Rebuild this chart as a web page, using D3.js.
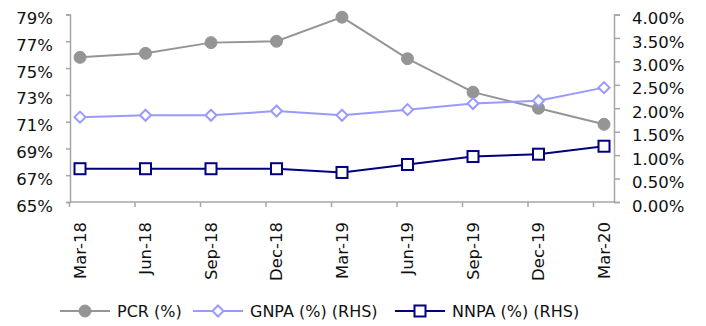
<!DOCTYPE html>
<html>
<head>
<meta charset="utf-8">
<script src="https://cdn.jsdelivr.net/npm/d3@7"></script>
<style>
  body { margin: 0; background: #fff; }
  text { font-family: "DejaVu Sans", sans-serif; fill: #111; }
</style>
</head>
<body>
<div id="chart"></div>
<script>
// data
const quarters = ["Mar-18", "Jun-18", "Sep-18", "Dec-18", "Mar-19", "Jun-19", "Sep-19", "Dec-19", "Mar-20"];
const pcr = [75.8, 76.1, 76.9, 77.0, 78.8, 75.7, 73.2, 72.0, 70.8];
const gnpa = [1.81, 1.85, 1.85, 1.94, 1.85, 1.97, 2.10, 2.16, 2.44];
const nnpa = [0.71, 0.71, 0.71, 0.71, 0.63, 0.80, 0.97, 1.02, 1.19];
const leftTicks = [65, 67, 69, 71, 73, 75, 77, 79];
const rightTicks = [0, 0.5, 1, 1.5, 2, 2.5, 3, 3.5, 4];

// set the dimensions and margins of the graph
const margin = { top: 14.5, right: 92, bottom: 124, left: 70 },
    width = 706 - margin.left - margin.right,
    height = 326 - margin.top - margin.bottom;

const svg = d3.select("#chart")
    .append("svg")
    .attr("width", 706)
    .attr("height", 326)
    .append("g")
    .attr("transform", "translate(" + margin.left + "," + margin.top + ")");

const axisColor = "#a6a6a6";

// scales
const x = d3.scalePoint()
    .domain(quarters)
    .range([10, 534]);

const yL = d3.scaleLinear()
    .domain([65, 79])
    .range([height, 0]);

const yR = d3.scaleLinear()
    .domain([0, 4])
    .range([height, 0]);

// left axis
const gL = svg.append("g")
    .call(d3.axisLeft(yL).tickValues(leftTicks).tickSize(4).tickPadding(13)
        .tickFormat(d => d + "%"));

// right axis
const gR = svg.append("g")
    .attr("transform", "translate(" + width + ",0)")
    .call(d3.axisRight(yR).tickValues(rightTicks).tickSize(6).tickPadding(12)
        .tickFormat(d => d.toFixed(2) + "%"));

[gL, gR].forEach(g => {
    g.select(".domain").attr("stroke", axisColor).attr("stroke-width", 1.5);
    g.selectAll(".tick line").attr("stroke", axisColor).attr("stroke-width", 1.5);
    g.selectAll(".tick text")
        .attr("dy", "0.55em")
        .style("font-size", "16.5px")
        .style("font-family", "'DejaVu Sans', sans-serif")
        .attr("fill", "#111");
});

// bottom axis: line, ticks left of each category, rotated labels
svg.append("line")
    .attr("x1", 0).attr("x2", width)
    .attr("y1", height).attr("y2", height)
    .attr("stroke", axisColor).attr("stroke-width", 1.5);

svg.append("g")
    .selectAll("line")
    .data(quarters)
    .enter().append("line")
    .attr("x1", d => x(d) - 10.5).attr("x2", d => x(d) - 10.5)
    .attr("y1", height).attr("y2", height + 5)
    .attr("stroke", axisColor).attr("stroke-width", 1.5);

svg.append("g")
    .selectAll("text")
    .data(quarters)
    .enter().append("text")
    .attr("transform", d => "translate(" + x(d) + "," + (height + 20) + ") rotate(-90)")
    .attr("text-anchor", "end")
    .attr("dy", "0.36em")
    .style("font-size", "16.5px")
    .text(d => d);

// lines
const series = [
    { name: "PCR (%)", values: pcr, y: yL, color: "#959595", marker: "circle" },
    { name: "GNPA (%) (RHS)", values: gnpa, y: yR, color: "#9999ff", marker: "diamond" },
    { name: "NNPA (%) (RHS)", values: nnpa, y: yR, color: "#000080", marker: "square" }
];

function drawMarker(g, type, color) {
    if (type === "circle") {
        g.append("circle").attr("r", 6).attr("fill", color).attr("stroke", color);
    } else if (type === "diamond") {
        g.append("path").attr("d", "M0,-5.5L5.5,0L0,5.5L-5.5,0Z")
            .attr("fill", "#fff").attr("stroke", color).attr("stroke-width", 2);
    } else {
        g.append("rect").attr("x", -5.5).attr("y", -5.5).attr("width", 11).attr("height", 11)
            .attr("fill", "#fff").attr("stroke", color).attr("stroke-width", 2);
    }
}

series.forEach(s => {
    const line = d3.line()
        .x((d, i) => x(quarters[i]))
        .y(d => s.y(d));

    svg.append("path")
        .datum(s.values)
        .attr("fill", "none")
        .attr("stroke", s.color)
        .attr("stroke-width", 2)
        .attr("d", line);

    s.values.forEach((v, i) => {
        const g = svg.append("g")
            .attr("transform", "translate(" + x(quarters[i]) + "," + s.y(v) + ")");
        drawMarker(g, s.marker, s.color);
    });
});

// legend
const legendX = [60, 193, 395];
const legend = d3.select("svg").append("g");
series.forEach((s, i) => {
    const g = legend.append("g").attr("transform", "translate(" + legendX[i] + ",311)");
    g.append("line")
        .attr("x1", 0).attr("x2", 50).attr("y1", 0).attr("y2", 0)
        .attr("stroke", s.color).attr("stroke-width", 2);
    drawMarker(g.append("g").attr("transform", "translate(25,0)"), s.marker, s.color);
    g.append("text")
        .attr("x", 57)
        .attr("dy", "0.36em")
        .style("font-size", "16px")
        .text(s.name);
});
</script>
</body>
</html>
